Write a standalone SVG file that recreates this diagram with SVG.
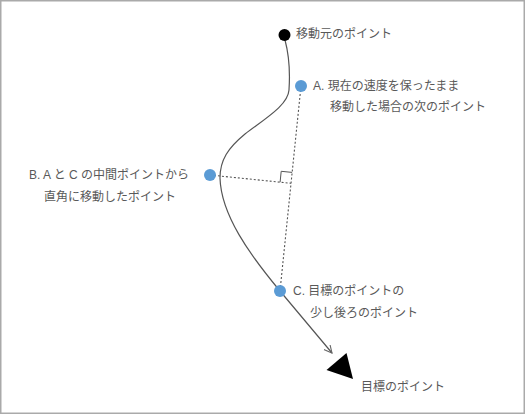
<svg xmlns="http://www.w3.org/2000/svg" width="526" height="415" viewBox="0 0 526 415">
<style>
text{font-family:"Liberation Sans","Noto Sans CJK JP",sans-serif;font-size:12px;fill:#595959}
.dot{fill:#5B9BD5}
.curve{fill:none;stroke:#555;stroke-width:1.2}
.dash{fill:none;stroke:#555;stroke-width:1.1;stroke-dasharray:2 2}
</style>
<defs>
<marker id="arr" markerWidth="10" markerHeight="10" refX="8" refY="4" orient="auto" markerUnits="userSpaceOnUse">
<path d="M0,0 L8,4 L0,8" fill="none" stroke="#666" stroke-width="1.1"/>
</marker>
</defs>
<rect x="0.75" y="0.75" width="523.5" height="412.5" fill="#fff" stroke="#aaa" stroke-width="1.5"/>
<g id="connectors">
<path class="curve" d="M285,40 C289,55 290,75 289,90 C288,105 266,118 245,134 C228,148 220,160 220,178 C221,215 250,255 280,291 L332,353" marker-end="url(#arr)"/>
<line class="dash" x1="301" y1="86" x2="280" y2="291"/>
<line class="dash" x1="210" y1="175" x2="291" y2="183.3"/>
<path d="M280.1,182.2 L281.2,171.3 L292.1,172.4" fill="none" stroke="#555" stroke-width="1"/>
</g>
<g id="start">
<circle cx="284.5" cy="35" r="6" fill="#000"/>
<text x="296" y="38">移動元のポイント</text>
</g>
<g id="pointA">
<circle class="dot" cx="301" cy="86" r="6"/>
<text x="313" y="90">A. 現在の速度を保ったまま</text>
<text x="330" y="111">移動した場合の次のポイント</text>
</g>
<g id="pointB">
<circle class="dot" cx="210" cy="175" r="6"/>
<text x="109" y="179" text-anchor="middle">B. A と C の中間ポイントから</text>
<text x="110" y="201" text-anchor="middle">直角に移動したポイント</text>
</g>
<g id="pointC">
<circle class="dot" cx="280" cy="291" r="6"/>
<text x="293" y="295">C. 目標のポイントの</text>
<text x="310" y="317">少し後ろのポイント</text>
</g>
<g id="target">
<polygon points="326.5,370 346.5,353 353,379" fill="#000"/>
<text x="361" y="391">目標のポイント</text>
</g>
</svg>
